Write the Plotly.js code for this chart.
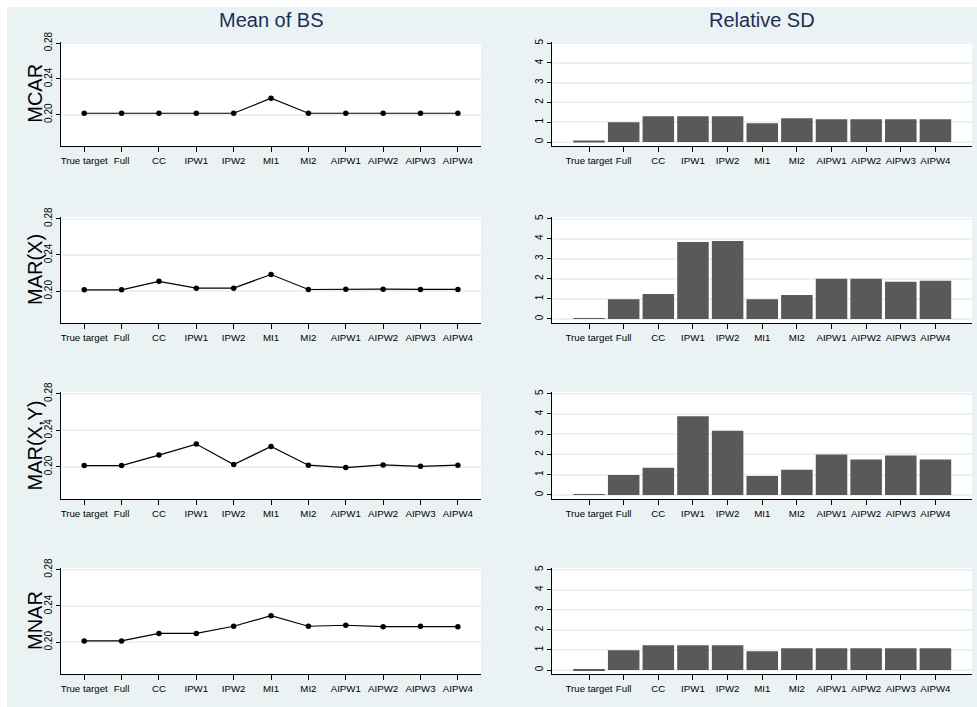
<!DOCTYPE html>
<html>
<head>
<meta charset="utf-8">
<script src="https://cdn.plot.ly/plotly-3.0.1.min.js"></script>
<style>
  html, body { margin: 0; padding: 0; background: #ffffff; }
  #chart { position: absolute; left: 7px; top: 7px; width: 970px; height: 700px; }
</style>
</head>
<body>
<div id="chart"></div>
<script>
const categories = ["True target","Full","CC","IPW1","IPW2","MI1","MI2","AIPW1","AIPW2","AIPW3","AIPW4"];
const mechanisms = ["MCAR","MAR(X)","MAR(X,Y)","MNAR"];
const columnTitles = ["Mean of BS","Relative SD"];

const meanBS_MCAR  = [0.2016,0.2016,0.2016,0.2016,0.2016,0.2184,0.2016,0.2016,0.2016,0.2016,0.2016];
const meanBS_MARX  = [0.2015,0.2015,0.2109,0.2034,0.2034,0.2184,0.2019,0.2023,0.2023,0.2020,0.2020];
const meanBS_MARXY = [0.2015,0.2015,0.2130,0.2250,0.2026,0.2223,0.2019,0.1993,0.2022,0.2007,0.2019];
const meanBS_MNAR  = [0.2015,0.2015,0.2097,0.2097,0.2176,0.2292,0.2176,0.2187,0.2172,0.2176,0.2172];

const relSD_MCAR  = [0.03,1.00,1.30,1.30,1.30,0.95,1.20,1.15,1.15,1.15,1.15];
const relSD_MARX  = [0.03,0.98,1.24,3.83,3.88,0.98,1.19,2.00,2.00,1.85,1.90];
const relSD_MARXY = [0.04,0.98,1.34,3.88,3.17,0.93,1.24,2.00,1.75,1.95,1.75];
const relSD_MNAR  = [0.03,0.98,1.23,1.23,1.23,0.93,1.08,1.08,1.08,1.08,1.08];

const meanSeries = [meanBS_MCAR, meanBS_MARX, meanBS_MARXY, meanBS_MNAR];
const sdSeries = [relSD_MCAR, relSD_MARX, relSD_MARXY, relSD_MNAR];

const meanTicks = [0.20, 0.24, 0.28];
const meanTickText = ["0.20", "0.24", "0.28"];
const sdTicks = [0, 1, 2, 3, 4, 5];
const sdTickText = ["0", "1", "2", "3", "4", "5"];

const BG = "#eaf2f3";
const FONT = "Liberation Sans, Arial, sans-serif";

const rowDomains = [[0.8014,0.9507],[0.5486,0.7000],[0.2971,0.4500],[0.0471,0.1986]];
const leftDomain = [0.0557, 0.4887];
const rightDomain = [0.5622, 0.9950];

const data = [];
const layout = {
  width: 970, height: 700,
  paper_bgcolor: BG,
  plot_bgcolor: "#ffffff",
  showlegend: false,
  margin: {l: 0, r: 0, t: 0, b: 0},
  font: {family: FONT, color: "#000000", size: 9.5},
  annotations: []
};

function xAxisDef(domain, anchor, range) {
  return {
    domain: domain, anchor: anchor,
    type: "category", categoryorder: "array", categoryarray: categories,
    range: range,
    showline: true, linecolor: "#000000", linewidth: 1,
    ticks: "outside", ticklen: 5, tickcolor: "#000000", tickwidth: 1,
    showgrid: false, zeroline: false,
    tickfont: {size: 9.7, color: "#000000", family: FONT},
    tickangle: 0, fixedrange: true
  };
}
function yAxisDef(domain, anchor, range, tv, tt) {
  return {
    domain: domain, anchor: anchor,
    range: range,
    tickmode: "array", tickvals: tv, ticktext: tt,
    showline: true, linecolor: "#000000", linewidth: 1,
    ticks: "outside", ticklen: 4, tickcolor: "#000000", tickwidth: 1,
    showgrid: true, gridcolor: BG, gridwidth: 1.5,
    zeroline: false,
    tickfont: {size: 10, color: "#000000", family: FONT},
    tickangle: -90, fixedrange: true
  };
}

for (let r = 0; r < 4; r++) {
  const li = 2 * r + 1, ri = 2 * r + 2;
  const lx = "x" + li, ly = "y" + li, rx = "x" + ri, ry = "y" + ri;
  data.push({
    type: "scatter", mode: "lines+markers",
    x: categories, y: meanSeries[r],
    xaxis: lx, yaxis: ly,
    line: {color: "#000000", width: 1.2},
    marker: {color: "#000000", size: 5.5, symbol: "circle"},
    hoverinfo: "x+y"
  });
  data.push({
    type: "bar",
    x: categories, y: sdSeries[r],
    xaxis: rx, yaxis: ry,
    marker: {color: "#595959", line: {width: 0}},
    hoverinfo: "x+y"
  });
  layout["xaxis" + li] = xAxisDef(leftDomain, ly, [-0.62, 10.62]);
  layout["yaxis" + li] = yAxisDef(rowDomains[r], lx, [0.165, 0.2818], meanTicks, meanTickText);
  layout["xaxis" + ri] = xAxisDef(rightDomain, ry, [-1.06, 11.06]);
  layout["yaxis" + ri] = yAxisDef(rowDomains[r], rx, [-0.2, 5.08], sdTicks, sdTickText);

  // row (missingness mechanism) title on the left of each row
  layout.annotations.push({
    text: mechanisms[r], xref: "paper", yref: "paper",
    x: 28 / 970, y: (rowDomains[r][0] + rowDomains[r][1]) / 2,
    xanchor: "center", yanchor: "middle", textangle: -90,
    showarrow: false, font: {size: 20, color: "#000000", family: FONT}
  });
}
layout.bargap = 0.09;

const colCenters = [(leftDomain[0] + leftDomain[1]) / 2, (rightDomain[0] + rightDomain[1]) / 2];
for (let c = 0; c < 2; c++) {
  layout.annotations.push({
    text: columnTitles[c], xref: "paper", yref: "paper",
    x: colCenters[c], y: 1 - 13 / 700, xanchor: "center", yanchor: "middle",
    showarrow: false, font: {size: 20, color: "#1a2f56", family: FONT}
  });
}

Plotly.newPlot("chart", data, layout, {displayModeBar: false});
</script>
</body>
</html>
